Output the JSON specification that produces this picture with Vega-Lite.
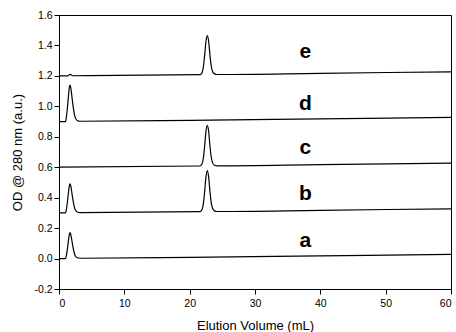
{
  "$schema": "https://vega.github.io/schema/vega-lite/v6.json",
  "autosize": "none",
  "width": 392,
  "height": 274,
  "padding": {"left": 59, "top": 15, "right": 5, "bottom": 43},
  "background": "white",
  "config": {
    "view": {"stroke": "black", "strokeWidth": 1},
    "font": "Liberation Sans",
    "axis": {
      "grid": false,
      "domainColor": "black",
      "tickColor": "black",
      "labelColor": "black",
      "titleColor": "black",
      "labelFont": "Liberation Sans",
      "titleFont": "Liberation Sans",
      "labelFontSize": 10.5,
      "titleFontSize": 13,
      "titleFontWeight": "normal",
      "tickSize": 5
    }
  },
  "datasets": {
    "traces": [
      {"s": "a", "x": 0, "y": 0}, {"s": "a", "x": 1.0, "y": 0}, {"s": "a", "x": 1.1, "y": 0.014}, {"s": "a", "x": 1.3, "y": 0.068}, {"s": "a", "x": 1.5, "y": 0.136}, {"s": "a", "x": 1.6, "y": 0.162}, {"s": "a", "x": 1.7, "y": 0.17}, {"s": "a", "x": 1.8, "y": 0.158}, {"s": "a", "x": 1.9, "y": 0.136}, {"s": "a", "x": 2.1, "y": 0.085}, {"s": "a", "x": 2.3, "y": 0.043}, {"s": "a", "x": 2.5, "y": 0.017}, {"s": "a", "x": 2.8, "y": 0.005}, {"s": "a", "x": 3.2, "y": 0.002}, {"s": "a", "x": 20, "y": 0.008}, {"s": "a", "x": 40, "y": 0.017}, {"s": "a", "x": 60, "y": 0.027},
      {"s": "b", "x": 0, "y": 0.3}, {"s": "b", "x": 1.0, "y": 0.3}, {"s": "b", "x": 1.1, "y": 0.315}, {"s": "b", "x": 1.3, "y": 0.376}, {"s": "b", "x": 1.5, "y": 0.452}, {"s": "b", "x": 1.6, "y": 0.48}, {"s": "b", "x": 1.7, "y": 0.49}, {"s": "b", "x": 1.8, "y": 0.477}, {"s": "b", "x": 1.9, "y": 0.452}, {"s": "b", "x": 2.1, "y": 0.395}, {"s": "b", "x": 2.3, "y": 0.348}, {"s": "b", "x": 2.5, "y": 0.319}, {"s": "b", "x": 2.8, "y": 0.306}, {"s": "b", "x": 3.2, "y": 0.302}, {"s": "b", "x": 21.6, "y": 0.308}, {"s": "b", "x": 21.9, "y": 0.322}, {"s": "b", "x": 22.1, "y": 0.362}, {"s": "b", "x": 22.3, "y": 0.443}, {"s": "b", "x": 22.5, "y": 0.538}, {"s": "b", "x": 22.7, "y": 0.578}, {"s": "b", "x": 22.9, "y": 0.538}, {"s": "b", "x": 23.1, "y": 0.443}, {"s": "b", "x": 23.3, "y": 0.367}, {"s": "b", "x": 23.5, "y": 0.33}, {"s": "b", "x": 23.8, "y": 0.313}, {"s": "b", "x": 24.2, "y": 0.309}, {"s": "b", "x": 40, "y": 0.317}, {"s": "b", "x": 60, "y": 0.327},
      {"s": "c", "x": 0, "y": 0.6}, {"s": "c", "x": 21.6, "y": 0.608}, {"s": "c", "x": 21.9, "y": 0.622}, {"s": "c", "x": 22.1, "y": 0.662}, {"s": "c", "x": 22.3, "y": 0.743}, {"s": "c", "x": 22.5, "y": 0.838}, {"s": "c", "x": 22.7, "y": 0.875}, {"s": "c", "x": 22.9, "y": 0.838}, {"s": "c", "x": 23.1, "y": 0.743}, {"s": "c", "x": 23.3, "y": 0.667}, {"s": "c", "x": 23.5, "y": 0.63}, {"s": "c", "x": 23.8, "y": 0.613}, {"s": "c", "x": 24.2, "y": 0.609}, {"s": "c", "x": 40, "y": 0.617}, {"s": "c", "x": 60, "y": 0.627},
      {"s": "d", "x": 0, "y": 0.9}, {"s": "d", "x": 1.0, "y": 0.9}, {"s": "d", "x": 1.1, "y": 0.919}, {"s": "d", "x": 1.3, "y": 0.996}, {"s": "d", "x": 1.5, "y": 1.092}, {"s": "d", "x": 1.6, "y": 1.128}, {"s": "d", "x": 1.7, "y": 1.14}, {"s": "d", "x": 1.8, "y": 1.123}, {"s": "d", "x": 1.9, "y": 1.092}, {"s": "d", "x": 2.1, "y": 1.02}, {"s": "d", "x": 2.3, "y": 0.96}, {"s": "d", "x": 2.5, "y": 0.924}, {"s": "d", "x": 2.8, "y": 0.907}, {"s": "d", "x": 3.2, "y": 0.902}, {"s": "d", "x": 20, "y": 0.908}, {"s": "d", "x": 40, "y": 0.917}, {"s": "d", "x": 60, "y": 0.927},
      {"s": "e", "x": 0, "y": 1.2}, {"s": "e", "x": 1.3, "y": 1.2}, {"s": "e", "x": 1.7, "y": 1.21}, {"s": "e", "x": 2.1, "y": 1.201}, {"s": "e", "x": 21.6, "y": 1.208}, {"s": "e", "x": 21.9, "y": 1.221}, {"s": "e", "x": 22.1, "y": 1.26}, {"s": "e", "x": 22.3, "y": 1.338}, {"s": "e", "x": 22.5, "y": 1.429}, {"s": "e", "x": 22.7, "y": 1.465}, {"s": "e", "x": 22.9, "y": 1.429}, {"s": "e", "x": 23.1, "y": 1.338}, {"s": "e", "x": 23.3, "y": 1.265}, {"s": "e", "x": 23.5, "y": 1.229}, {"s": "e", "x": 23.8, "y": 1.213}, {"s": "e", "x": 24.2, "y": 1.209}, {"s": "e", "x": 40, "y": 1.217}, {"s": "e", "x": 60, "y": 1.227}
    ],
    "labels": [
      {"s": "a", "x": 37.7, "y": 0.075},
      {"s": "b", "x": 37.7, "y": 0.385},
      {"s": "c", "x": 37.7, "y": 0.69},
      {"s": "d", "x": 37.7, "y": 0.975},
      {"s": "e", "x": 37.7, "y": 1.315}
    ]
  },
  "layer": [
    {
      "data": {"name": "traces"},
      "mark": {"type": "line", "color": "black", "strokeWidth": 1.2, "interpolate": "monotone", "clip": true},
      "encoding": {
        "x": {"field": "x", "type": "quantitative", "scale": {"domain": [0, 60], "nice": false}, "axis": {"title": "Elution Volume (mL)", "values": [0, 10, 20, 30, 40, 50, 60], "tickCount": 7, "labelPadding": 4, "titlePadding": 11, "labelOverlap": false}},
        "y": {"field": "y", "type": "quantitative", "scale": {"domain": [-0.2, 1.6], "nice": false, "zero": false}, "axis": {"title": "OD @ 280 nm (a.u.)", "values": [-0.2, 0, 0.2, 0.4, 0.6, 0.8, 1.0, 1.2, 1.4, 1.6], "tickCount": 10, "labelExpr": "datum.value < 0 ? '-' + format(-datum.value, '.1f') : format(datum.value, '.1f')", "labelPadding": 2, "titlePadding": 9, "labelOverlap": false, "labelFlush": false}},
        "detail": {"field": "s", "type": "nominal"}
      }
    },
    {
      "data": {"name": "labels"},
      "mark": {"type": "text", "font": "Liberation Sans", "fontSize": 21, "fontWeight": "bold", "color": "black", "align": "center", "baseline": "alphabetic"},
      "encoding": {
        "x": {"field": "x", "type": "quantitative"},
        "y": {"field": "y", "type": "quantitative"},
        "text": {"field": "s", "type": "nominal"}
      }
    }
  ]
}
